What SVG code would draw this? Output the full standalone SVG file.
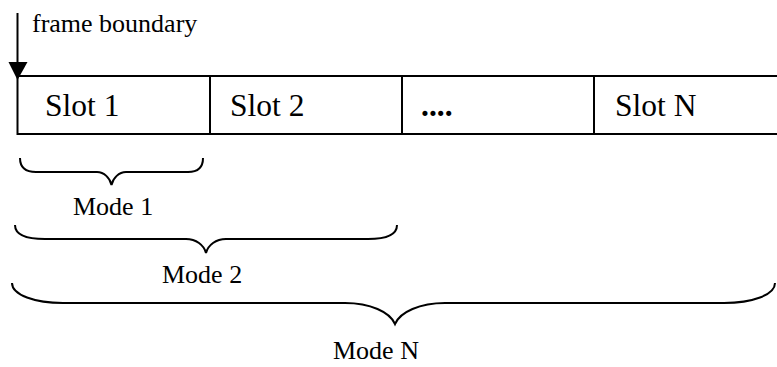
<svg xmlns="http://www.w3.org/2000/svg" width="777" height="367" viewBox="0 0 777 367">
<style>
  .t { font-family: "Liberation Serif", "Times New Roman", serif; fill: #000; }
  .lbl { font-size: 26px; }
  .slot { font-size: 31.5px; }
  .mode { font-size: 26px; }
  .ln { fill: none; stroke: #000; stroke-width: 2; }
  .br { fill: none; stroke: #000; stroke-width: 2; stroke-linejoin: miter; }
</style>
<rect width="777" height="367" fill="#fff"/>
<g id="connectors">
  <line class="ln" x1="17.5" y1="13" x2="17.5" y2="64"/>
  <polygon points="8.5,62 27.5,62 17.5,80" fill="#000"/>
</g>
<g id="frame-boundary-label">
  <text class="t lbl" x="32" y="32">frame boundary</text>
</g>
<g id="frame">
  <rect class="ln" x="17.5" y="76" width="800" height="58"/>
</g>
<g id="slot1">
  <text class="t slot" x="45" y="116">Slot 1</text>
</g>
<g id="slot2">
  <line class="ln" x1="210" y1="76" x2="210" y2="134"/>
  <text class="t slot" x="230" y="116">Slot 2</text>
</g>
<g id="slot-dots">
  <line class="ln" x1="402" y1="76" x2="402" y2="134"/>
  <text class="t slot" x="421" y="116" font-weight="bold">....</text>
</g>
<g id="slotN">
  <line class="ln" x1="594" y1="76" x2="594" y2="134"/>
  <text class="t slot" x="615" y="116">Slot N</text>
</g>
<g id="mode1">
  <path class="br" d="M20,158 C20,168 26,172 36,172 L97,172 C104,172 110,178 111.5,185 C113,178 119,172 126,172 L188,172 C198,172 203,168 203,158"/>
  <text class="t mode" x="73" y="215">Mode 1</text>
</g>
<g id="mode2">
  <path class="br" d="M15,225 C15,235 28,239 45,239 L186,239 C196,239 204,245 206,253 C208,245 216,239 226,239 L368,239 C385,239 397,235 397,225"/>
  <text class="t mode" x="162" y="283">Mode 2</text>
</g>
<g id="modeN">
  <path class="br" d="M12,283 C12,295 35,303 63,303 L345,303 C370,303 390,312 395,324 C400,312 420,303 445,303 L724,303 C752,303 775,295 775,283"/>
  <text class="t mode" x="333" y="359">Mode N</text>
</g>
</svg>
